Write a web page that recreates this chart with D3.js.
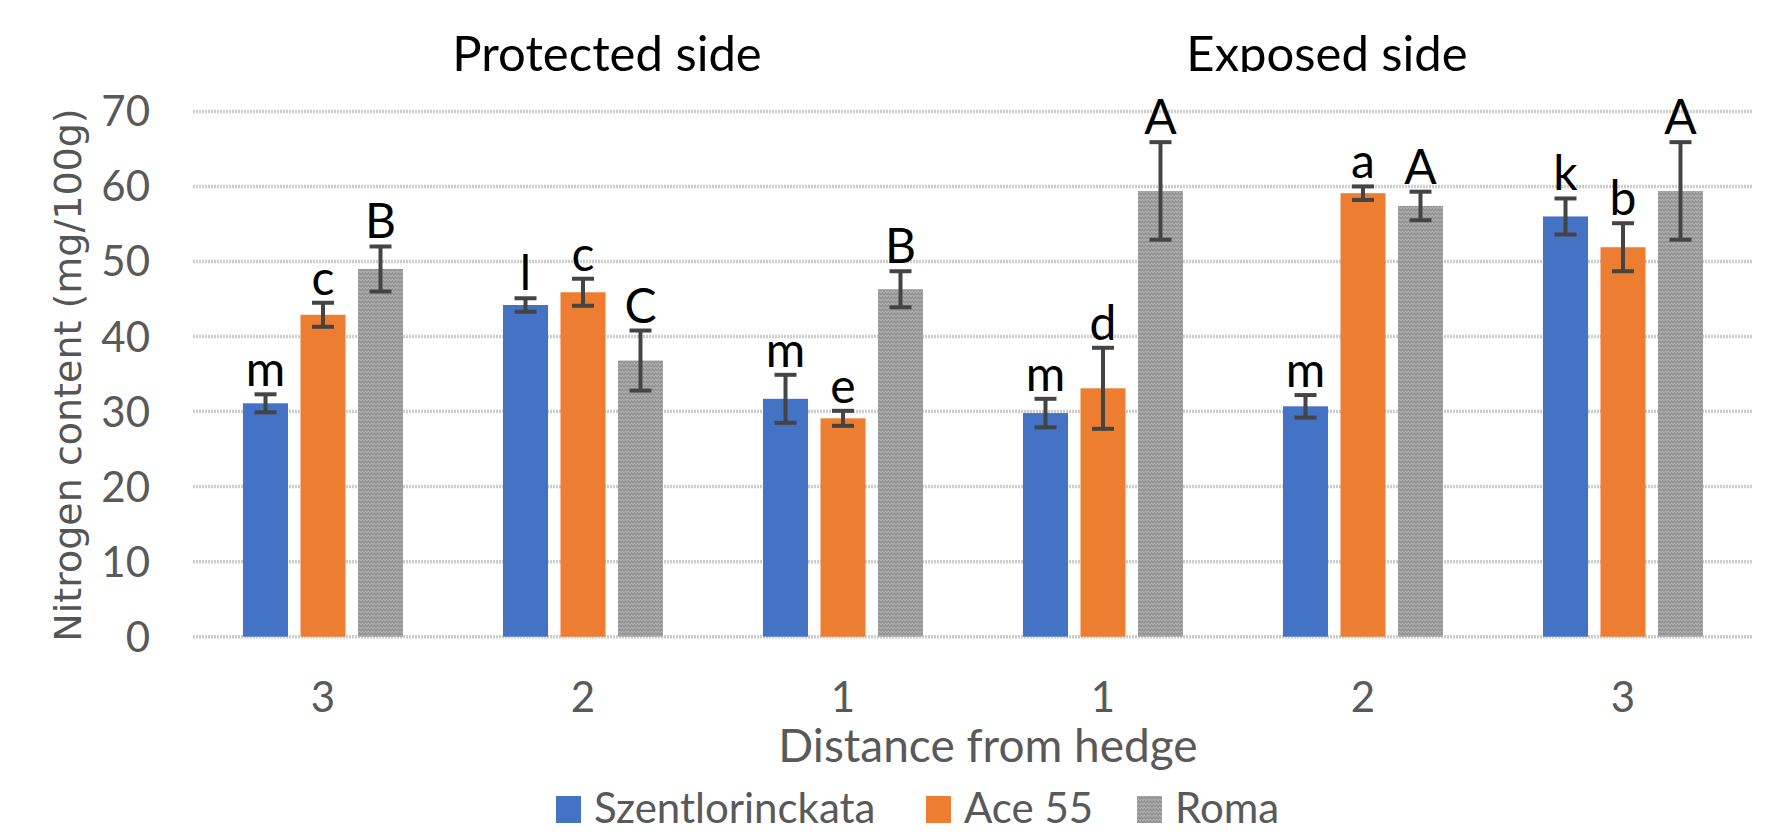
<!DOCTYPE html>
<html>
<head>
<meta charset="utf-8">
<script src="https://cdn.jsdelivr.net/npm/d3@7"></script>
<style>
  body { margin: 0; background: #fff; }
  svg text { font-family: Lato, "Liberation Sans", sans-serif; }
</style>
</head>
<body>
<svg id="chart" width="1783" height="840"></svg>
<script>
  // values
  var distances = [ "3" , "2" , "1" , "1" , "2" , "3" ];
  var sides = [ "Protected side" , "Exposed side" ];
  var seriesNames = [ "Szentlorinckata" , "Ace 55" , "Roma" ];
  var colors = [ "#4472c4" , "#ed7d31" , "#a5a5a5" ];

  var szentValues = [ 31.1 , 44.2 , 31.7 , 29.8 , 30.7 , 56.0 ];
  var aceValues   = [ 42.9 , 45.9 , 29.1 , 33.1 , 59.1 , 51.9 ];
  var romaValues  = [ 49.0 , 36.8 , 46.3 , 59.4 , 57.4 , 59.4 ];

  var szentErr = [ 1.2 , 0.9 , 3.2 , 1.9 , 1.5 , 2.4 ];
  var aceErr   = [ 1.6 , 1.8 , 1.0 , 5.4 , 0.9 , 3.2 ];
  var romaErr  = [ 3.0 , 4.0 , 2.4 , 6.5 , 1.9 , 6.5 ];

  var szentLetters = [ "m" , "l" , "m" , "m" , "m" , "k" ];
  var aceLetters   = [ "c" , "c" , "e" , "d" , "a" , "b" ];
  var romaLetters  = [ "B" , "C" , "B" , "A" , "A" , "A" ];

  var yTicks = [ 0 , 10 , 20 , 30 , 40 , 50 , 60 , 70 ];

  var values = [ szentValues , aceValues , romaValues ];
  var errors = [ szentErr , aceErr , romaErr ];
  var letters = [ szentLetters , aceLetters , romaLetters ];

  var svg = d3.select( "#chart" );

  var defs = svg.append( "defs" );
  var pat = defs.append( "pattern" )
    .attr( "id" , "romaTex" )
    .attr( "patternUnits" , "userSpaceOnUse" )
    .attr( "width" , 6 ).attr( "height" , 4 );
  pat.append( "rect" ).attr( "width" , 6 ).attr( "height" , 4 ).attr( "fill" , "#acacac" );
  pat.append( "path" ).attr( "d" , "M0,3 L1.5,1 L3,3 L4.5,1 L6,3" )
    .attr( "fill" , "none" ).attr( "stroke" , "#8f8f8f" ).attr( "stroke-width" , 1.2 );

  var x = d3.scaleBand().domain( d3.range( distances.length ) ).range( [ 193 , 1753 ] );
  var xs = d3.scaleBand().domain( d3.range( seriesNames.length ) )
    .range( [ 50 , 210 ] ).paddingInner( 0.217 );
  var y = d3.scaleLinear().domain( [ 0 , 70 ] ).range( [ 636.7 , 111.4 ] );

  // gridlines
  svg.append( "g" ).selectAll( "line" ).data( yTicks ).join( "line" )
    .attr( "x1" , 193 ).attr( "x2" , 1753 )
    .attr( "y1" , function( d ) { return y( d ); } )
    .attr( "y2" , function( d ) { return y( d ); } )
    .attr( "stroke" , "#cdcdcd" ).attr( "stroke-width" , 3.5 )
    .attr( "stroke-dasharray" , "2,1" );

  // y tick labels
  svg.append( "g" ).selectAll( "text" ).data( yTicks ).join( "text" )
    .attr( "x" , 150 )
    .attr( "y" , function( d ) { return y( d ) + 15; } )
    .attr( "text-anchor" , "end" )
    .attr( "font-size" , 42 ).attr( "fill" , "#595959" )
    .text( function( d ) { return d; } );

  // bars
  var groups = svg.append( "g" ).selectAll( "g" ).data( d3.range( distances.length ) ).join( "g" )
    .attr( "transform" , function( i ) { return "translate(" + x( i ) + ",0)"; } );

  groups.each( function( i ) {
    var g = d3.select( this );
    var rows = seriesNames.map( function( name , s ) {
      return { s : s , v : values[ s ][ i ] , e : errors[ s ][ i ] , t : letters[ s ][ i ] };
    } );

    g.selectAll( "rect" ).data( rows ).join( "rect" )
      .attr( "x" , function( d ) { return xs( d.s ); } )
      .attr( "width" , xs.bandwidth() )
      .attr( "y" , function( d ) { return y( d.v ); } )
      .attr( "height" , function( d ) { return y( 0 ) - y( d.v ); } )
      .attr( "fill" , function( d ) { return d.s === 2 ? "url(#romaTex)" : colors[ d.s ]; } );

    var eb = g.selectAll( "g.err" ).data( rows ).join( "g" ).attr( "class" , "err" )
      .attr( "stroke" , "#444" ).attr( "stroke-width" , 4 );
    eb.append( "line" )
      .attr( "x1" , function( d ) { return xs( d.s ) + xs.bandwidth() / 2; } )
      .attr( "x2" , function( d ) { return xs( d.s ) + xs.bandwidth() / 2; } )
      .attr( "y1" , function( d ) { return y( d.v + d.e ); } )
      .attr( "y2" , function( d ) { return y( d.v - d.e ); } );
    [ 1 , -1 ].forEach( function( sign ) {
      eb.append( "line" )
        .attr( "x1" , function( d ) { return xs( d.s ) + xs.bandwidth() / 2 - 11; } )
        .attr( "x2" , function( d ) { return xs( d.s ) + xs.bandwidth() / 2 + 11; } )
        .attr( "y1" , function( d ) { return y( d.v + sign * d.e ); } )
        .attr( "y2" , function( d ) { return y( d.v + sign * d.e ); } );
    } );

    g.selectAll( "text" ).data( rows ).join( "text" )
      .attr( "x" , function( d ) { return xs( d.s ) + xs.bandwidth() / 2; } )
      .attr( "y" , function( d ) { return y( d.v + d.e ) - 8; } )
      .attr( "text-anchor" , "middle" )
      .attr( "font-size" , 48 ).attr( "fill" , "#000" )
      .text( function( d ) { return d.t; } );
  } );

  // x tick labels
  svg.append( "g" ).selectAll( "text" ).data( d3.range( distances.length ) ).join( "text" )
    .attr( "x" , function( i ) { return x( i ) + x.bandwidth() / 2; } )
    .attr( "y" , 712 )
    .attr( "text-anchor" , "middle" )
    .attr( "font-size" , 42 ).attr( "fill" , "#595959" )
    .text( function( i ) { return distances[ i ]; } );

  // side titles (clipped at the baseline like the source)
  defs.append( "clipPath" ).attr( "id" , "topClip" )
    .append( "rect" ).attr( "x" , 0 ).attr( "y" , 0 ).attr( "width" , 1783 ).attr( "height" , 72 );
  var sideCenters = [ x( 1 ) + x.bandwidth() / 2 + 24 , x( 4 ) + x.bandwidth() / 2 - 36 ];
  svg.append( "g" ).attr( "clip-path" , "url(#topClip)" )
    .selectAll( "text" ).data( sides ).join( "text" )
    .attr( "x" , function( d , i ) { return sideCenters[ i ]; } )
    .attr( "y" , 71 )
    .attr( "text-anchor" , "middle" )
    .attr( "font-size" , 49 ).attr( "fill" , "#000" )
    .text( function( d ) { return d; } );

  // axis titles
  svg.append( "text" )
    .attr( "transform" , "translate(81,375) rotate(-90)" )
    .attr( "text-anchor" , "middle" )
    .style( "font-family" , "'DejaVu Sans', sans-serif" )
    .attr( "font-size" , 38 ).attr( "fill" , "#555" )
    .text( "Nitrogen content (mg/100g)" );

  svg.append( "text" )
    .attr( "x" , 988 ).attr( "y" , 762 )
    .attr( "text-anchor" , "middle" )
    .attr( "font-size" , 46 ).attr( "fill" , "#595959" )
    .text( "Distance from hedge" );

  // legend
  var legendX = [ 556 , 926 , 1137 ];
  var leg = svg.append( "g" ).selectAll( "g" ).data( seriesNames ).join( "g" )
    .attr( "transform" , function( d , i ) { return "translate(" + legendX[ i ] + ",796)"; } );
  leg.append( "rect" ).attr( "width" , 25 ).attr( "height" , 27 )
    .attr( "fill" , function( d , i ) { return i === 2 ? "url(#romaTex)" : colors[ i ]; } );
  leg.append( "text" ).attr( "x" , 38 ).attr( "y" , 27 )
    .attr( "font-size" , 42 ).attr( "fill" , "#595959" )
    .text( function( d ) { return d; } );
</script>
</body>
</html>
